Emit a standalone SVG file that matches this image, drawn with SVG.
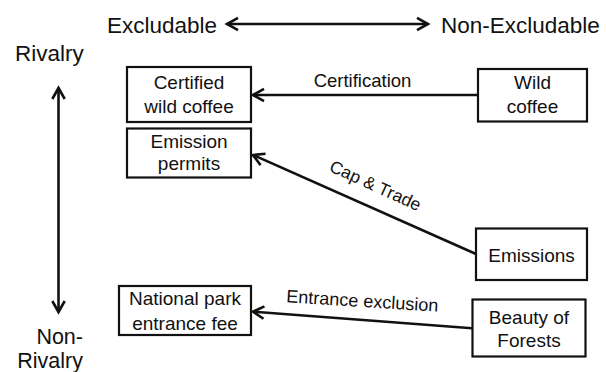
<svg xmlns="http://www.w3.org/2000/svg" width="606" height="372" viewBox="0 0 606 372">
<style>
text{font-family:"Liberation Sans",Arial,sans-serif;fill:#111}
.h{font-size:22.5px}
.b{font-size:19px;text-anchor:middle}
.l{font-size:18.5px;text-anchor:middle}
rect{fill:#fff;stroke:#111;stroke-width:2.2}
.c{stroke:#111;stroke-width:2.6;fill:none}
</style>
<defs>
<marker id="ah" viewBox="0 0 16 16" refX="13" refY="8" markerWidth="16" markerHeight="16" markerUnits="userSpaceOnUse" orient="auto-start-reverse">
<path d="M2,1.8 L13,8 L2,14.2" fill="none" stroke="#111" stroke-width="2.6" stroke-linejoin="miter"/>
</marker>
</defs>
<g id="axes">
<text class="h" x="107" y="33">Excludable</text>
<text class="h" x="441" y="33">Non-Excludable</text>
<text class="h" x="15" y="61">Rivalry</text>
<text class="h" x="83" y="343.5" text-anchor="end" style="font-size:21.5px">Non-</text>
<text class="h" x="83" y="367.5" text-anchor="end" style="font-size:21.5px">Rivalry</text>
</g>
<g id="connectors">
<line class="c" x1="227" y1="24" x2="428" y2="24" marker-start="url(#ah)" marker-end="url(#ah)"/>
<line class="c" x1="58.5" y1="88" x2="58.5" y2="312" marker-start="url(#ah)" marker-end="url(#ah)"/>
<line class="c" x1="478" y1="95" x2="253" y2="95" marker-end="url(#ah)"/>
<line class="c" x1="476" y1="254" x2="253" y2="155" marker-end="url(#ah)"/>
<line class="c" x1="472" y1="328.3" x2="253" y2="311.7" marker-end="url(#ah)"/>
<text class="l" x="362.5" y="87.3">Certification</text>
<text class="l" x="373" y="191" transform="rotate(24.5 373 191)" style="font-size:17.5px">Cap &amp; Trade</text>
<text class="l" x="362" y="307" transform="rotate(3.5 362 307)" style="font-size:18px">Entrance exclusion</text>
</g>
<g id="certified">
<rect x="127" y="67" width="124" height="55"/>
<text class="b" x="189" y="89.3">Certified</text>
<text class="b" x="189" y="113.3">wild coffee</text>
</g>
<g id="permits">
<rect x="127" y="128.5" width="124" height="49"/>
<text class="b" x="189" y="147.5">Emission</text>
<text class="b" x="189" y="170">permits</text>
</g>
<g id="wild">
<rect x="478" y="69" width="109" height="52.5"/>
<text class="b" x="532.5" y="89.3">Wild</text>
<text class="b" x="532.5" y="113.3">coffee</text>
</g>
<g id="emissions">
<rect x="476" y="228.5" width="111" height="51.5"/>
<text class="b" x="531.5" y="261.7">Emissions</text>
</g>
<g id="national">
<rect x="119" y="286" width="132" height="49"/>
<text class="b" x="185" y="305">National park</text>
<text class="b" x="185" y="330">entrance fee</text>
</g>
<g id="beauty">
<rect x="472.5" y="299.5" width="113" height="57"/>
<text class="b" x="529" y="324">Beauty of</text>
<text class="b" x="529" y="347">Forests</text>
</g>
</svg>
